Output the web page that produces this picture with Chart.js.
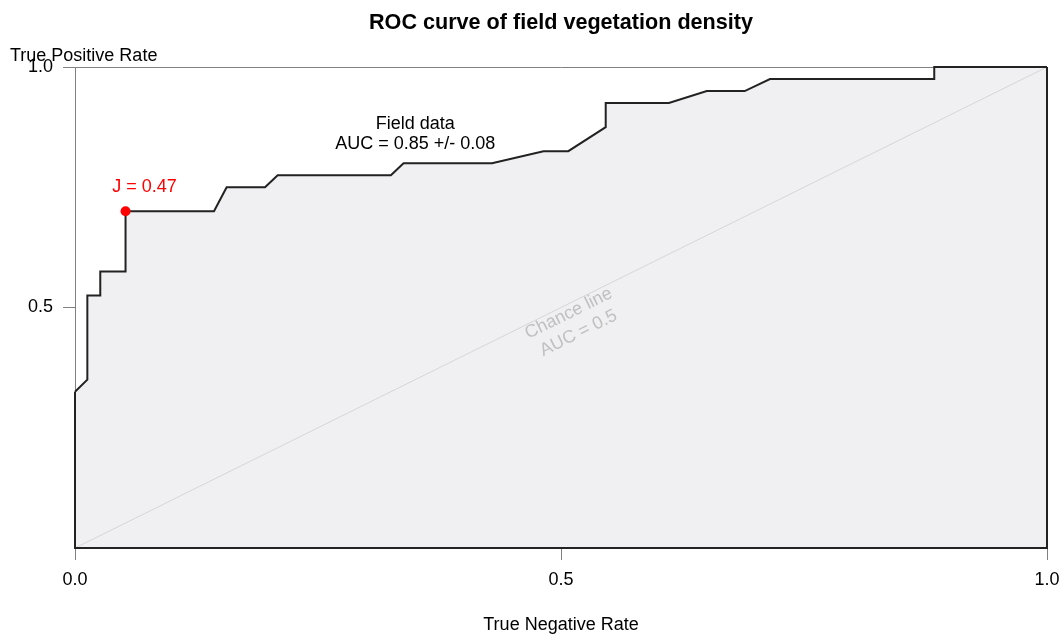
<!DOCTYPE html>
<html>
<head>
<meta charset="utf-8">
<script src="https://cdn.jsdelivr.net/npm/chart.js@4/dist/chart.umd.min.js"></script>
<style>
  html, body { margin: 0; padding: 0; background: #ffffff; }
  #wrap { width: 1063px; height: 637px; }
</style>
</head>
<body>
<div id="wrap"><canvas id="roc" width="1063" height="637"></canvas></div>
<script>
// ROC curve steps (true negative rate on x, true positive rate on y)
const curveTNR = [0, 0.0127, 0.0127, 0.026, 0.026, 0.052, 0.052, 0.143, 0.156, 0.1955, 0.2085, 0.325, 0.338, 0.429, 0.482, 0.5075, 0.546, 0.546, 0.611, 0.650, 0.689, 0.715, 0.884, 0.884, 1];
const curveTPR = [0.325, 0.35, 0.525, 0.525, 0.575, 0.575, 0.70, 0.70, 0.75, 0.75, 0.775, 0.775, 0.80, 0.80, 0.825, 0.825, 0.875, 0.925, 0.925, 0.95, 0.95, 0.975, 0.975, 1, 1];
// closing edge of the area polygon (right side, bottom, left side)
const closeTNR = [1, 1, 0, 0];
const closeTPR = [1, 0, 0, 0.325];
// best threshold (Youden index)
const bestTNR = [0.052];
const bestTPR = [0.70];
const bestLabel = 'J = 0.47';
// chance diagonal
const chanceTNR = [0, 1];
const chanceTPR = [0, 1];
// axis ticks
const xTicks = [0, 0.5, 1];
const yTicks = [0.5, 1];

const titleText = 'ROC curve of field vegetation density';
const xTitle = 'True Negative Rate';
const yTitle = 'True Positive Rate';
const curveLabel = ['Field data', 'AUC = 0.85 +/- 0.08'];
const chanceLabel = ['Chance line', 'AUC = 0.5'];

const FONT = '"Liberation Sans", Arial, Helvetica, sans-serif';

const toPoints = (xs, ys) => xs.map((x, i) => ({ x: x, y: ys[i] }));

const textPlugin = {
  id: 'rocText',
  afterDatasetsDraw(chart) {
    const ctx = chart.ctx;
    const xs = chart.scales.x, ys = chart.scales.y;
    const area = chart.chartArea;
    ctx.save();
    ctx.textAlign = 'center';
    ctx.textBaseline = 'middle';

    // main title
    ctx.fillStyle = '#000';
    ctx.font = 'bold 21.6px ' + FONT;
    ctx.fillText(titleText, (area.left + area.right) / 2, 23);

    // y axis title, horizontal above the axis
    ctx.font = '18px ' + FONT;
    ctx.textAlign = 'left';
    ctx.fillText(yTitle, 10, 56);

    // curve label
    ctx.textAlign = 'center';
    ctx.fillStyle = '#000';
    const cx = xs.getPixelForValue(0.35);
    ctx.fillText(curveLabel[0], cx, ys.getPixelForValue(0.881));
    ctx.fillText(curveLabel[1], cx, ys.getPixelForValue(0.840));

    // best threshold label
    ctx.fillStyle = '#ff0000';
    ctx.fillText(bestLabel, xs.getPixelForValue(bestTNR[0]) + 19, ys.getPixelForValue(bestTPR[0]) - 24);

    // chance line label, rotated along the diagonal
    const x0 = xs.getPixelForValue(0), y0 = ys.getPixelForValue(0);
    const x1 = xs.getPixelForValue(1), y1 = ys.getPixelForValue(1);
    const ang = Math.atan2(y1 - y0, x1 - x0);
    ctx.translate(xs.getPixelForValue(0.513), ys.getPixelForValue(0.467));
    ctx.rotate(ang);
    ctx.fillStyle = '#c0c0c0';
    ctx.fillText(chanceLabel[0], 0, -11);
    ctx.fillText(chanceLabel[1], 0, 11);
    ctx.restore();
  }
};

new Chart(document.getElementById('roc'), {
  type: 'line',
  data: {
    datasets: [
      {
        label: 'best',
        data: toPoints(bestTNR, bestTPR),
        pointRadius: 5,
        pointBackgroundColor: '#ff0000',
        pointBorderColor: '#ff0000',
        pointBorderWidth: 0,
        showLine: false,
        fill: false,
        clip: 8
      },
      {
        label: 'roc',
        data: toPoints(curveTNR, curveTPR),
        borderColor: '#222222',
        borderWidth: 2,
        pointRadius: 0,
        fill: 'origin',
        backgroundColor: '#f0f0f3',
        tension: 0,
        clip: 4
      },
      {
        label: 'outline',
        data: toPoints(closeTNR, closeTPR),
        borderColor: '#222222',
        borderWidth: 2,
        pointRadius: 0,
        fill: false,
        tension: 0,
        clip: 4
      },
      {
        label: 'chance',
        data: toPoints(chanceTNR, chanceTPR),
        borderColor: '#d6d6d6',
        borderWidth: 1,
        pointRadius: 0,
        fill: false
      }
    ]
  },
  options: {
    responsive: false,
    animation: false,
    events: [],
    layout: { autoPadding: false, padding: { top: 67, right: 16, bottom: 0, left: 0 } },
    plugins: {
      legend: { display: false },
      tooltip: { enabled: false },
      title: { display: false },
      filler: { drawTime: 'beforeDatasetsDraw' }
    },
    scales: {
      x: {
        type: 'linear',
        min: 0, max: 1,
        afterFit(s) { s.height = 89; s.paddingRight = 0; s.paddingLeft = 0; },
        afterBuildTicks(s) { s.ticks = xTicks.map(v => ({ value: v })); },
        border: { display: false },
        grid: { drawOnChartArea: false, drawTicks: true, tickLength: 12, tickColor: '#808080', lineWidth: 1 },
        ticks: {
          color: '#000', padding: 9, maxRotation: 0,
          font: { family: FONT, size: 18 },
          callback: v => Number(v).toFixed(1)
        },
        title: {
          display: true, text: xTitle, color: '#000',
          font: { family: FONT, size: 18 },
          padding: { top: 0, bottom: 1 }
        }
      },
      y: {
        type: 'linear',
        min: 0, max: 1,
        afterFit(s) { s.width = 75; s.paddingTop = 0; s.paddingBottom = 0; },
        afterBuildTicks(s) { s.ticks = yTicks.map(v => ({ value: v })); },
        border: { display: true, color: '#808080', width: 1 },
        grid: {
          drawOnChartArea: true, drawTicks: true, tickLength: 12,
          tickColor: '#808080',
          color: c => (c.tick && c.tick.value === 1 ? '#808080' : 'rgba(0,0,0,0)'),
          lineWidth: 1
        },
        ticks: {
          color: '#000', padding: 10,
          font: { family: FONT, size: 18 },
          callback: v => Number(v).toFixed(1)
        }
      }
    }
  },
  plugins: [textPlugin]
});
</script>
</body>
</html>
